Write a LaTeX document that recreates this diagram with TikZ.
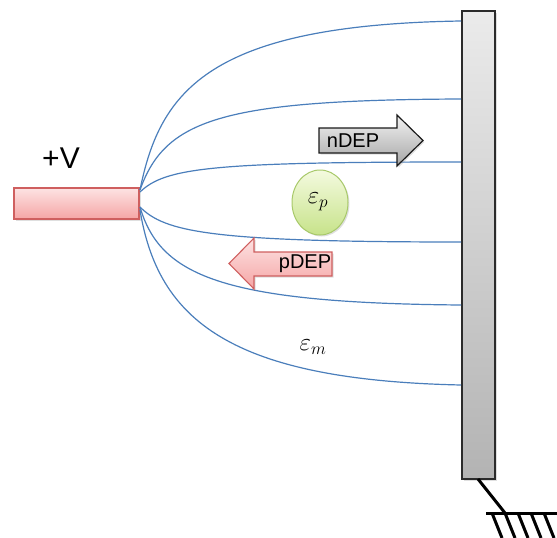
\documentclass[tikz,border=0pt]{standalone}
\usepackage{fontspec}
\setmainfont{Liberation Sans}
\usetikzlibrary{shadows, shapes.geometric}
\definecolor{fieldblue}{HTML}{4A7EBB}
\definecolor{pinkedge}{HTML}{CF5F5F}
\definecolor{pinktop}{HTML}{FDE3E3}
\definecolor{pinkbot}{HTML}{F5A5A5}
\definecolor{greyedge}{HTML}{1A1A1A}
\definecolor{greytop}{HTML}{F2F2F2}
\definecolor{greybot}{HTML}{A6A6A6}
\definecolor{plateedge}{HTML}{2B2B2B}
\definecolor{platetop}{HTML}{EBEBEB}
\definecolor{platebot}{HTML}{B3B3B3}
\definecolor{greenedge}{HTML}{A8C96A}
\definecolor{greentop}{HTML}{F4FADF}
\definecolor{greenbot}{HTML}{C7E38A}

\begin{document}
\begin{tikzpicture}[x=1pt,y=-1pt,
  field/.style={fieldblue, line width=1.2pt},
  soft/.style={drop shadow={opacity=0.25, shadow xshift=1.5pt, shadow yshift=-1.5pt}},
  pinkbox/.style={draw=pinkedge, line width=1.1pt, top color=pinktop, bottom color=pinkbot, soft},
  greybox/.style={draw=greyedge, line width=1.2pt, top color=greytop, bottom color=greybot, soft},
  ground/.style={line width=3pt, black},
  big/.style={font=\fontsize{30}{34}\selectfont},
  mid/.style={font=\fontsize{20}{24}\selectfont},
  greek/.style={font=\fontsize{24}{28}\selectfont}]
\useasboundingbox (0,0) rectangle (557,538);

% electrode and plate
\coordinate (eA) at (14,188);
\coordinate (eB) at (139,219);
\coordinate (pA) at (462,11);
\coordinate (pB) at (495,479);
\path[pinkbox] (eA) rectangle (eB);
\path[draw=plateedge, line width=1.5pt, top color=platetop, bottom color=platebot, soft] (pA) rectangle (pB);
\node[big] (vlabel) at (61,158) {+V};

% field lines
\coordinate (s1) at (140,190);
\coordinate (s2) at (140,192);
\coordinate (s3) at (140,207);
\coordinate (s4) at (140,210);
\coordinate (t1) at (461,21);
\coordinate (t2) at (461,99);
\coordinate (t3) at (461,162);
\coordinate (t4) at (461,242);
\coordinate (t5) at (461,305);
\coordinate (t6) at (461,385);
\draw[field] (s1) .. controls (160,90) and (210,25) .. (t1);
\draw[field] (s1) .. controls (165,120) and (220,100) .. (t2);
\draw[field] (s2) .. controls (165,168) and (210,162) .. (t3);
\draw[field] (s3) .. controls (165,232) and (210,242) .. (t4);
\draw[field] (s3) .. controls (160,275) and (220,303) .. (t5);
\draw[field] (s4) .. controls (158,320) and (230,380) .. (t6);

% nDEP arrow
\path[greybox] (319,128) -- (397,128) -- (397,115) -- (423,140.5) -- (397,166) -- (397,153) -- (319,153) -- cycle;
\node[mid] (ndep) at (353,140.5) {nDEP};

% pDEP arrow
\path[pinkbox] (332,252) -- (254,252) -- (254,238) -- (229,263.5) -- (254,289) -- (254,276) -- (332,276) -- cycle;
\node[mid] (pdep) at (305,264) {pDEP};

% particle
\node[ellipse, minimum width=56pt, minimum height=65pt, draw=greenedge, line width=1pt,
      top color=greentop, bottom color=greenbot, soft] (part) at (320,202.5) {};
\node[greek] (epsp) at (318,202) {$\varepsilon_p$};
\node[greek] (epsm) at (313,347) {$\varepsilon_m$};

% ground
\coordinate (g0) at (478,479);
\coordinate (g1) at (505,513);
\coordinate (g2) at (486,513);
\coordinate (g3) at (557,513);
\draw[ground] (g0) -- (g1);
\draw[ground] (g2) -- (g3);
\foreach \x in {492,505,518,531,544}
  \draw[ground] (\x,513) -- (\x+10,538);
\end{tikzpicture}
\end{document}
